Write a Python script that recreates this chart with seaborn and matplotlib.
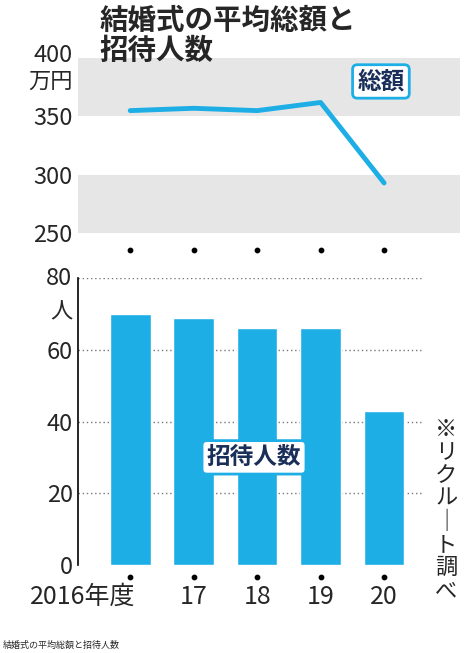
import matplotlib
matplotlib.use("Agg")
import matplotlib.pyplot as plt
import seaborn as sns
import pandas as pd

sns.set_theme(style="white")
plt.rcParams['font.family'] = ['Noto Sans CJK JP', 'DejaVu Sans']

years = ["2016年度", "17", "18", "19", "20"]
total_cost = [355, 357, 355, 362, 293]
guests = [70, 69, 66, 66, 43]
blue = "#1eaee6"

fig = plt.figure(figsize=(4.74, 6.53), dpi=100)
xl = (-0.82, 5.2)

# top panel
ax1 = fig.add_axes([0.165, 0.643, 0.806, 0.268])
ax1.axhspan(250, 300, color="#e6e6e6", lw=0)
ax1.axhspan(350, 400, color="#e6e6e6", lw=0)
df1 = pd.DataFrame({"x": range(5), "y": total_cost})
sns.lineplot(data=df1, x="x", y="y", ax=ax1, color=blue, lw=3.5)
ax1.set_xlim(*xl); ax1.set_ylim(250, 400)
ax1.set_yticks([250, 300, 350, 400])
ax1.set_yticklabels(["250", "300", "350", ""], fontsize=17)
ax1.set_xticks([]); ax1.set_xlabel(""); ax1.set_ylabel("")
for s in ax1.spines.values(): s.set_visible(False)
ax1.tick_params(axis="y", length=0, pad=4)
ax1.text(-0.015, 402, "400", transform=ax1.get_yaxis_transform(), ha="right", va="center", fontsize=17)
ax1.text(-0.015, 380, "万円", transform=ax1.get_yaxis_transform(), ha="right", va="center", fontsize=16)
ax1.text(3.95, 380, "総額", ha="center", va="center", fontsize=17, fontweight="bold", color="#1a2e5a",
         bbox=dict(boxstyle="round,pad=0.2", fc="white", ec=blue, lw=2))

# bottom panel
ax2 = fig.add_axes([0.165, 0.135, 0.806, 0.439])
df2 = pd.DataFrame({"x": list(range(5)), "y": guests})
for v in [20, 40, 60, 80]:
    ax2.hlines(v, xl[0], 4.6, colors="#777777", linestyles=(0, (1, 2)), lw=1)
ax2.bar(df2["x"], df2["y"], width=0.64, color=blue, zorder=2)
ax2.set_xlim(*xl); ax2.set_ylim(0, 80)
ax2.set_yticks([0, 20, 40, 60, 80])
ax2.set_yticklabels(["0", "20", "40", "60", ""], fontsize=17)
ax2.set_xticks(range(5)); ax2.set_xticklabels([""] + years[1:], fontsize=18)
ax2.text(0.08, -9.0, years[0], ha="right", va="center", fontsize=18)
ax2.tick_params(axis="x", length=0, pad=14)
ax2.tick_params(axis="y", length=0, pad=4)
for s in ["top", "right", "bottom"]: ax2.spines[s].set_visible(False)
ax2.spines["left"].set_color("black"); ax2.spines["left"].set_linewidth(1.2)
ax2.text(-0.015, 80, "80", transform=ax2.get_yaxis_transform(), ha="right", va="center", fontsize=17)
ax2.text(-0.015, 70.5, "人", transform=ax2.get_yaxis_transform(), ha="right", va="center", fontsize=16)
ax2.scatter(range(5), [-3.5] * 5, s=10, color="black", clip_on=False)
ax2.scatter(range(5), [88] * 5, s=10, color="black", clip_on=False)
ax2.text(1.95, 30, "招待人数", ha="center", va="center", fontsize=17, fontweight="bold", color="#1a2e5a",
         bbox=dict(boxstyle="round,pad=0.2", fc="white", ec=blue, lw=2), zorder=5)
note = "※リクルート調べ".replace("ー", "｜")
ax2.text(4.98, 41, "\n".join(note), ha="center", va="top", fontsize=16, linespacing=1.0)

fig.text(0.21, 0.99, "結婚式の平均総額と\n招待人数", ha="left", va="top", fontsize=20.5,
         fontweight="bold", linespacing=1.1)
fig.text(0.005, 0.005, "結婚式の平均総額と招待人数", ha="left", va="bottom", fontsize=6.5)

fig.savefig("out.png", dpi=100)
